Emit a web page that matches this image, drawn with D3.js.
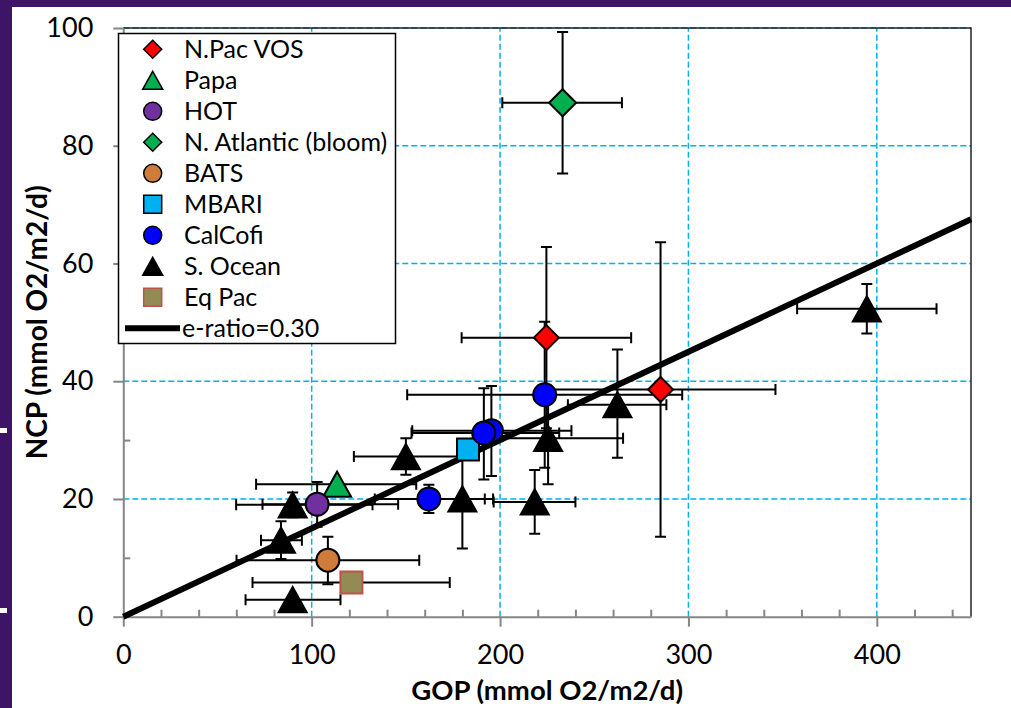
<!DOCTYPE html>
<html>
<head>
<meta charset="utf-8">
<script src="https://cdn.jsdelivr.net/npm/d3@7"></script>
<style>
    body { margin: 0; background: #3d1468; }
    svg { display: block; font-family: Lato, "Open Sans", sans-serif; }
</style>
</head>
<body>
<svg id="chart" width="1011" height="708"></svg>
<script>
// Valors llegits del gràfic: [GOP, NCP, errX-, errX+, errY-, errY+]
const npacVos = [
    [224.6, 47.4, 45, 45, 15.4, 15.4],
    [285.2, 38.6, 61, 61, 25, 25]
];
const papa = [
    [113.5, 22.5, 43, 42, 0, 0]
];
const hot = [
    [102.9, 19.1, 29, 43, 3.8, 3.8]
];
const nAtlantic = [
    [233.2, 87.3, 32, 31.5, 12, 12]
];
const bats = [
    [108.6, 9.6, 48.5, 48.5, 4.1, 4.0]
];
const mbari = [
    [183, 28.4, 0, 0, 0, 0]
];
const calCofi = [
    [223.7, 37.7, 73, 73, 12.4, 12.4],
    [195.4, 31.6, 42, 42.5, 7.7, 7.6],
    [191.4, 31.2, 38.4, 40, 7.9, 7.6],
    [162.2, 20.0, 28.7, 29.7, 2.4, 2.4]
];
const sOcean = [
    [89.9, 19.0, 30, 42.4, 2.1, 2.1],
    [83.7, 13.0, 10.6, 11.1, 3.2, 3.2],
    [89.9, 2.9, 25, 25.4, 0, 0],
    [150, 27.2, 27.6, 27.6, 3.1, 3.1],
    [180, 20.0, 16, 16.3, 8.4, 8.4],
    [225.5, 30.3, 40, 39.8, 7.8, 7.8],
    [218.4, 19.5, 21.8, 21.6, 5.4, 5.4],
    [262.3, 36.0, 26.3, 26, 9, 9.4],
    [394.7, 52.3, 37, 37, 4.2, 4.2]
];
const eqPac = [
    [121.1, 5.8, 52.5, 52.2, 0, 0]
];
const ratioLine = [[0, 0], [450, 67.5]];
const ratioLabel = 'e-ratio=0.30';

const xTicks = [0, 100, 200, 300, 400];
const yTicks = [0, 20, 40, 60, 80, 100];
const xMinor = d3.range(0, 451, 20);
const yMinor = d3.range(0, 101, 10);

const series = [
    { name: 'N.Pac VOS', data: npacVos, shape: 'diamond', fill: '#ff0000', stroke: '#000', size: 25 },
    { name: 'Papa', data: papa, shape: 'triangle', fill: '#00b050', stroke: '#000', size: 28 },
    { name: 'HOT', data: hot, shape: 'circle', fill: '#7030a0', stroke: '#000', size: 23 },
    { name: 'N. Atlantic (bloom)', data: nAtlantic, shape: 'diamond', fill: '#00b050', stroke: '#000', size: 27 },
    { name: 'BATS', data: bats, shape: 'circle', fill: '#cf7c3a', stroke: '#000', size: 23 },
    { name: 'MBARI', data: mbari, shape: 'square', fill: '#00b0f0', stroke: '#000', size: 22 },
    { name: 'CalCofi', data: calCofi, shape: 'circle', fill: '#0000ff', stroke: '#000', size: 23 },
    { name: 'S. Ocean', data: sOcean, shape: 'triangle', fill: '#000', stroke: '#000', size: 28 },
    { name: 'Eq Pac', data: eqPac, shape: 'square', fill: '#948a54', stroke: '#c0504d', size: 22 }
];

const svg = d3.select('#chart');

// fons blanc del gràfic (la resta és la diapositiva)
svg.append('rect').attr('x', 12).attr('y', 7).attr('width', 999).attr('height', 701).attr('fill', '#fff');
svg.append('rect').attr('x', 0).attr('y', 428).attr('width', 7).attr('height', 5).attr('fill', '#fff');
svg.append('rect').attr('x', 0).attr('y', 608).attr('width', 7).attr('height', 5).attr('fill', '#fff');

const x = d3.scaleLinear().domain([0, 450]).range([123.3, 971]);
const y = d3.scaleLinear().domain([0, 100]).range([616.7, 28]);

// graella
const grid = svg.append('g')
    .attr('stroke', '#00b0f0')
    .attr('stroke-width', 1.5)
    .attr('stroke-dasharray', '6,3');

grid.selectAll('.gx')
    .data(xTicks.filter(d => d > 0))
    .enter().append('line')
    .attr('x1', d => x(d)).attr('x2', d => x(d))
    .attr('y1', y(0)).attr('y2', y(100));

grid.selectAll('.gy')
    .data(yTicks.filter(d => d > 0))
    .enter().append('line')
    .attr('x1', x(0)).attr('x2', x(450))
    .attr('y1', d => y(d)).attr('y2', d => y(d));

// vores superior i dreta
svg.append('path')
    .attr('d', `M${x(0)},${y(100)}H${x(450)}V${y(0)}`)
    .attr('fill', 'none')
    .attr('stroke', '#222')
    .attr('stroke-width', 1.5);

// eixos
svg.append('g')
    .attr('transform', `translate(0,${y(0)})`)
    .call(d3.axisBottom(x).tickValues(xTicks).tickSize(10).tickPadding(18).tickSizeOuter(0));

svg.append('g')
    .attr('transform', `translate(0,${y(0)})`)
    .call(d3.axisBottom(x).tickValues(xMinor.filter(d => d % 100 !== 0)).tickSize(-7).tickFormat('').tickSizeOuter(0))
    .call(g => g.select('.domain').remove());

svg.append('g')
    .attr('transform', `translate(${x(0)},0)`)
    .call(d3.axisLeft(y).tickValues(yTicks).tickSize(10).tickPadding(20).tickSizeOuter(0));

svg.append('g')
    .attr('transform', `translate(${x(0)},0)`)
    .call(d3.axisLeft(y).tickValues(yMinor.filter(d => d % 20 !== 0)).tickSize(-7).tickFormat('').tickSizeOuter(0))
    .call(g => g.select('.domain').remove());

svg.selectAll('.domain, .tick line')
    .attr('stroke', '#868686')
    .attr('stroke-width', 2);

svg.selectAll('.tick text')
    .attr('fill', '#000')
    .style('font-family', 'Lato, sans-serif')
    .style('font-size', '27px');

// títols dels eixos
svg.append('text')
    .attr('x', (x(0) + x(450)) / 2)
    .attr('y', 700)
    .attr('text-anchor', 'middle')
    .style('font-size', '27.5px')
    .style('font-weight', 'bold')
    .text('GOP (mmol O2/m2/d)');

svg.append('text')
    .attr('transform', `translate(37,${(y(0) + y(100)) / 2}) rotate(-90)`)
    .attr('dy', '0.35em')
    .attr('text-anchor', 'middle')
    .style('font-size', '28px')
    .style('font-weight', 'bold')
    .text('NCP (mmol O2/m2/d)');

// línia e-ratio
svg.append('line')
    .attr('x1', x(ratioLine[0][0])).attr('y1', y(ratioLine[0][1]))
    .attr('x2', x(ratioLine[1][0])).attr('y2', y(ratioLine[1][1]))
    .attr('stroke', '#000')
    .attr('stroke-width', 6);

function markerPath(shape, s) {
    const h = s / 2;
    if (shape === 'circle') return d3.symbol(d3.symbolCircle, Math.PI * h * h)();
    if (shape === 'square') return `M${-h},${-h}H${h}V${h}H${-h}Z`;
    if (shape === 'diamond') return `M0,${-h}L${h},0L0,${h}L${-h},0Z`;
    return `M0,${-h * 0.9}L${h},${h * 0.9}L${-h},${h * 0.9}Z`;
}

// barres d'error (totes abans dels marcadors)
const cap = 5.5;
const errG = svg.append('g').attr('stroke', '#000').attr('stroke-width', 2).attr('fill', 'none');
series.forEach(s => {
    s.data.forEach(d => {
        const [gx, gy, xm, xp, ym, yp] = d;
        const cx = x(gx), cy = y(gy);
        if (xm || xp) {
            const x1 = x(gx - xm), x2 = x(gx + xp);
            errG.append('path')
                .attr('d', `M${x1},${cy}H${x2}M${x1},${cy - cap}V${cy + cap}M${x2},${cy - cap}V${cy + cap}`);
        }
        if (ym || yp) {
            const y1 = y(gy - ym), y2 = y(gy + yp);
            errG.append('path')
                .attr('d', `M${cx},${y1}V${y2}M${cx - cap},${y1}H${cx + cap}M${cx - cap},${y2}H${cx + cap}`);
        }
    });
});

// marcadors
series.forEach(s => {
    svg.append('g').selectAll('path')
        .data(s.data)
        .enter().append('path')
        .attr('d', markerPath(s.shape, s.size))
        .attr('transform', d => `translate(${x(d[0])},${y(d[1])})`)
        .attr('fill', s.fill)
        .attr('stroke', s.stroke)
        .attr('stroke-width', 2);
});

// llegenda
const legend = svg.append('g');
legend.append('rect')
    .attr('x', 118.5).attr('y', 33.5)
    .attr('width', 277).attr('height', 310)
    .attr('fill', '#fff')
    .attr('stroke', '#000')
    .attr('stroke-width', 1.5);

const rowY = i => 49.3 + 31 * i;

series.forEach((s, i) => {
    legend.append('path')
        .attr('d', markerPath(s.shape, s.shape === 'triangle' ? 20 : 18))
        .attr('transform', `translate(152.7,${rowY(i)})`)
        .attr('fill', s.fill)
        .attr('stroke', s.stroke)
        .attr('stroke-width', 1.5);
    legend.append('text')
        .attr('x', 184)
        .attr('y', rowY(i))
        .attr('dy', '0.35em')
        .style('font-size', '25px')
        .text(s.name);
});

legend.append('line')
    .attr('x1', 125).attr('x2', 180)
    .attr('y1', rowY(series.length)).attr('y2', rowY(series.length))
    .attr('stroke', '#000')
    .attr('stroke-width', 6);
legend.append('text')
    .attr('x', 182)
    .attr('y', rowY(series.length))
    .attr('dy', '0.35em')
    .style('font-size', '25px')
    .text(ratioLabel);
</script>
</body>
</html>
